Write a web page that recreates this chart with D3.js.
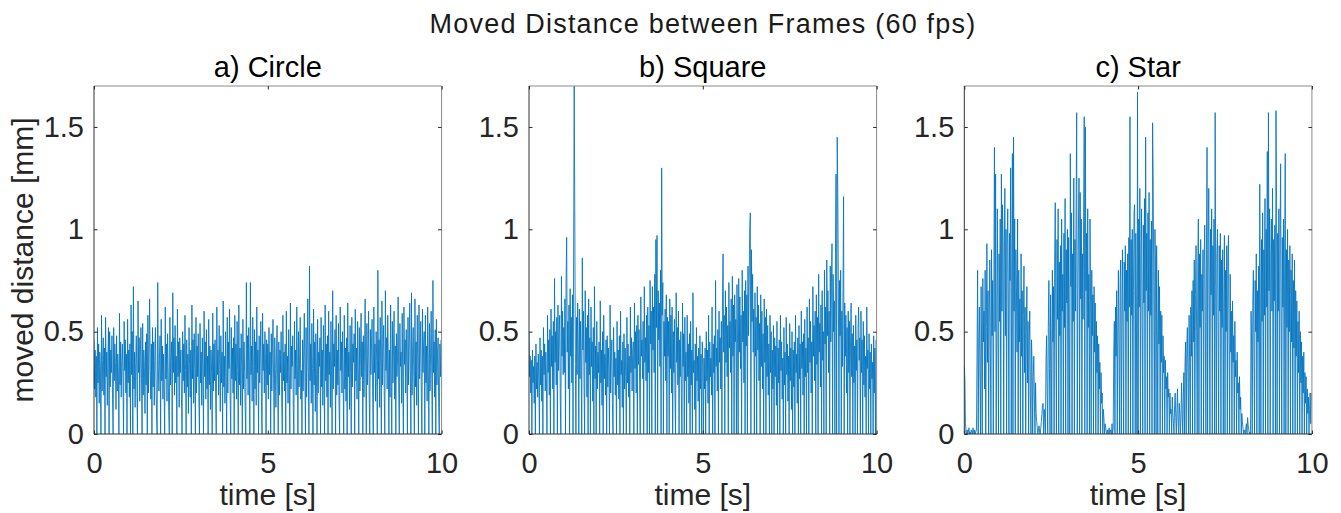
<!DOCTYPE html>
<html>
<head>
<meta charset="utf-8">
<script src="https://cdn.jsdelivr.net/npm/d3@7.9.0/dist/d3.min.js"></script>
<style>
  body { margin: 0; background: #fff; }
  svg { display: block; font-family: "Liberation Sans", Arial, sans-serif; }
  .tick text { fill: #262626; }
  .tick line { stroke: #262626; }
</style>
</head>
<body>
<svg id="chart" width="1341" height="513"></svg>
<script>
// moved distance per frame, in 1/100 mm, 60 frames per second
const FPS = 60;
const mainTitle = "Moved Distance between Frames (60 fps)";
const panelTitles = ["a) Circle", "b) Square", "c) Star"];
const xLabel = "time [s]";
const yLabel = "moved distance [mm]";
const xTicks = [0, 5, 10];
const yTicks = [0, 0.5, 1, 1.5];

const circle = [
  46,22,41,18,38,0,52,25,44,15,40,33,0,58,21,36,47,19,42,0,57,28,40,14,37,52,0,50,23,41,
  30,48,17,0,52,26,44,35,12,48,21,39,30,0,59,24,45,18,36,44,27,0,55,31,46,20,39,0,56,25,
  41,18,44,0,63,29,50,0,72,22,40,13,35,48,26,0,65,30,47,16,38,52,27,0,54,19,41,33,10,45,
  24,49,0,58,20,40,66,31,17,44,0,52,23,45,14,36,52,28,8,0,74,33,21,37,48,0,56,26,43,17,
  39,22,0,62,27,44,16,49,33,11,0,57,24,36,45,0,69,30,47,19,53,25,38,0,61,28,45,13,47,30,
  41,17,0,50,26,44,20,58,31,0,46,23,39,10,52,34,18,41,0,63,27,46,15,49,32,0,57,20,43,28,
  49,18,0,54,25,40,14,47,30,0,60,28,45,17,51,22,38,0,56,24,43,12,41,30,0,59,21,44,26,46,
  16,0,62,29,41,19,53,33,11,48,25,40,0,65,23,38,15,50,28,0,57,20,45,32,61,18,0,52,27,42,
  20,47,0,58,26,44,17,55,31,0,63,24,42,14,49,33,0,56,22,45,30,12,0,74,27,48,19,52,35,0,
  74,29,43,16,57,33,0,51,22,45,14,62,30,41,0,48,25,39,55,18,0,59,31,44,20,50,37,0,46,24,
  44,17,52,29,40,0,49,21,42,56,27,0,47,32,13,39,53,24,0,45,19,41,30,50,16,0,58,26,40,21,
  44,0,60,25,38,15,51,30,0,64,22,43,33,48,12,0,55,27,41,19,62,34,0,50,23,39,57,17,31,0,
  46,21,41,59,28,0,52,18,38,66,30,0,82,26,44,15,54,32,0,61,24,45,11,49,29,0,56,20,40,33,
  47,0,57,23,41,14,53,30,0,63,26,44,18,48,0,60,29,40,13,55,31,0,70,22,44,33,51,0,58,19,
  41,24,54,14,0,62,31,45,20,50,27,0,58,22,42,16,47,0,64,28,40,12,53,30,0,57,23,44,35,49,
  0,61,26,42,17,55,33,0,52,21,40,59,28,45,0,48,18,41,66,30,0,54,24,39,60,19,0,51,29,44,
  56,20,0,62,30,44,16,50,36,0,80,27,46,13,57,33,0,65,24,42,53,19,0,70,31,47,22,58,38,0,
  41,18,63,30,0,55,25,42,60,17,43,0,49,28,38,67,21,0,54,33,40,15,59,26,0,62,34,46,20,51,
  35,0,57,24,42,64,31,0,69,19,40,52,28,0,66,23,45,14,58,34,0,63,27,41,55,18,0,61,30,44,
  50,0,58,25,43,16,62,33,0,54,21,40,60,27,0,75,30,45,18,51,0,56,24,39,47,13,0,44,28,46
];

const square = [
  50,28,38,20,36,0,41,25,33,15,38,0,44,22,35,18,39,27,0,47,24,41,16,38,0,52,29,44,21,40,
  27,0,58,30,46,19,51,0,61,33,48,22,55,0,76,35,50,24,57,0,63,31,49,58,16,0,77,38,60,29,
  52,30,66,0,74,96,40,55,22,63,0,71,38,57,25,68,0,85,170,110,34,0,57,29,64,42,0,61,27,55,
  36,0,86,41,60,24,0,70,35,52,18,58,0,66,29,47,0,62,33,45,16,52,0,72,27,43,0,55,22,40,
  30,45,0,65,25,41,14,50,0,58,27,39,19,46,0,48,23,42,31,0,63,20,38,46,15,0,52,28,40,19,
  37,0,55,24,41,17,48,0,60,29,36,13,45,0,49,22,42,28,0,57,25,44,18,38,0,62,30,47,21,40,
  45,0,64,32,50,20,53,0,58,34,51,24,0,67,38,46,27,55,0,72,35,47,26,58,0,62,30,53,0,75,
  44,60,0,72,41,62,30,78,0,95,52,97,0,70,46,64,33,80,0,130,58,74,0,55,38,61,26,68,0,57,
  38,55,0,66,32,58,20,62,0,50,30,56,17,0,69,35,52,24,60,0,46,28,50,19,0,64,33,49,0,57,
  26,40,0,58,28,44,15,49,0,55,24,41,0,69,30,36,12,44,0,52,26,38,16,42,0,48,22,39,0,45,
  33,0,37,22,42,0,50,26,41,15,58,0,45,28,37,19,62,0,44,30,48,0,75,33,42,21,51,0,60,35,
  47,22,55,0,66,88,40,58,0,70,35,62,28,53,0,74,42,55,30,66,0,77,38,63,0,68,45,56,0,73,
  44,0,76,40,67,32,58,0,80,45,60,25,70,0,75,43,68,0,82,48,72,100,108,0,90,55,78,40,61,0,
  69,38,57,0,72,41,63,26,54,0,68,33,60,22,49,0,66,35,57,0,61,28,53,19,44,0,58,30,50,0,
  41,22,53,0,47,28,43,14,55,0,42,25,46,0,58,31,45,17,37,0,52,24,40,0,57,29,44,16,38,0,
  54,26,42,12,50,0,41,23,45,0,58,30,39,15,47,0,53,27,44,0,60,32,45,19,49,0,56,28,42,0,
  62,30,47,0,66,35,55,20,45,0,72,38,53,26,60,0,68,34,57,0,78,40,54,23,63,0,70,36,50,0,
  80,44,62,0,85,48,70,30,60,0,82,45,74,93,0,78,50,65,0,88,127,0,145,118,72,0,75,48,80,0,
  60,33,70,116,0,64,38,58,20,52,0,60,30,55,0,45,64,28,49,0,53,25,43,0,58,31,46,0,51,62,
  36,47,0,60,30,46,0,55,24,48,18,38,0,62,32,41,0,49,22,40,0,44,27,35,0,48,20,42,0,46
];

const star = [
  33,27,5,1,0,2,0,1,3,0,1,0,2,1,0,3,1,0,2,0,1,2,40,80,0,45,62,28,0,72,
  38,0,76,45,60,22,80,0,52,93,35,70,0,55,85,40,0,90,48,75,0,68,140,50,127,0,45,110,60,0,
  88,55,105,0,127,60,112,94,0,85,120,48,100,0,92,110,65,0,98,75,130,0,80,137,0,145,60,105,0,90,
  72,40,105,0,80,45,66,0,88,38,70,0,58,82,30,62,0,50,72,25,55,0,44,60,20,0,46,35,0,28,
  38,18,0,25,10,6,3,0,2,4,1,0,3,6,10,14,15,0,12,8,0,35,48,20,0,52,75,32,0,68,
  40,0,80,45,72,0,86,113,50,0,95,56,110,0,84,48,92,0,105,60,78,0,98,52,115,0,90,64,100,0,
  96,50,0,137,72,108,0,88,55,125,0,95,60,112,157,0,70,100,125,0,118,66,105,0,88,56,108,155,0,150,
  70,98,0,110,52,78,0,105,62,0,80,48,68,0,72,40,64,0,55,30,48,0,44,22,35,0,30,15,20,0,
  12,8,0,5,3,1,0,2,0,1,3,0,2,1,0,5,0,3,40,55,0,62,38,70,0,50,80,42,0,75,
  85,0,52,90,48,0,84,60,92,0,80,55,88,0,96,62,155,0,95,58,100,0,70,108,112,0,98,60,0,167,
  0,105,62,120,0,88,110,55,0,102,64,115,0,145,70,98,0,108,60,118,0,95,58,104,0,152,125,72,0,100,
  85,0,92,50,0,80,44,72,0,60,35,58,0,48,30,38,0,36,22,28,0,30,18,22,0,20,10,12,0,18,
  10,5,0,14,20,8,0,12,22,6,0,15,10,0,8,25,12,0,18,30,0,35,45,0,40,52,28,0,58,35,
  0,62,38,70,0,75,45,85,0,68,92,50,0,80,105,0,88,52,95,0,78,60,90,0,85,102,55,0,90,140,
  0,95,120,62,0,100,68,110,0,92,58,105,0,157,72,0,88,100,55,0,92,60,98,0,85,52,90,0,66,97,
  0,80,50,92,0,85,97,48,0,78,40,60,0,65,35,48,0,55,28,36,0,40,20,25,0,28,12,18,0,10,
  6,3,0,2,1,0,3,5,0,8,4,2,0,1,0,60,42,0,65,80,38,0,75,50,88,0,70,45,82,0,
  122,60,0,95,55,108,0,90,58,115,0,100,62,138,0,157,70,110,0,85,105,60,120,0,95,65,102,0,158,115,
  0,98,60,110,0,92,132,55,0,96,62,105,0,88,137,0,90,52,100,0,85,50,92,0,80,45,88,0,75,42,
  85,0,70,38,65,0,55,30,60,0,50,25,45,0,38,20,40,0,30,15,28,0,22,10,18,0,12,20,5,20
];

const series = [circle, square, star];

const svg = d3.select("#chart");
const plotTop = 86, plotH = 348, plotW = 347.6;
const lefts = [94, 529, 964.3];

const x = d3.scaleLinear().domain([0, 10]).range([0, plotW]);
const y = d3.scaleLinear().domain([0, 1.7]).range([plotH, 0]);

const line = d3.line()
  .x((d, i) => x(i / FPS))
  .y(d => y(d / 100));

svg.append("text")
  .attr("x", 703).attr("y", 33)
  .attr("text-anchor", "middle")
  .attr("font-size", 27)
  .attr("letter-spacing", 1.2)
  .attr("fill", "#1a1a1a")
  .text(mainTitle);

series.forEach((vals, k) => {
  const g = svg.append("g").attr("transform", `translate(${lefts[k]},${plotTop})`);

  g.append("clipPath").attr("id", "clip" + k)
    .append("rect").attr("width", plotW).attr("height", plotH);

  g.append("path")
    .datum(vals)
    .attr("clip-path", `url(#clip${k})`)
    .attr("fill", "none")
    .attr("stroke", "#0072bd")
    .attr("stroke-width", 0.85)
    .attr("stroke-linejoin", "round")
    .attr("d", line);

  // frame: lighter top/right, darker left/bottom
  g.append("line").attr("x1", 0).attr("x2", plotW).attr("y1", 0).attr("y2", 0).attr("stroke", "#8a8a8a");
  g.append("line").attr("x1", plotW).attr("x2", plotW).attr("y1", 0).attr("y2", plotH).attr("stroke", "#8a8a8a");

  const yAxis = g.append("g")
    .call(d3.axisLeft(y).tickValues(yTicks).tickSize(-3.5).tickPadding(10).tickFormat(d => d));
  const yAxisR = g.append("g").attr("transform", `translate(${plotW},0)`)
    .call(d3.axisRight(y).tickValues(yTicks).tickSize(-3.5).tickFormat(""));
  const xAxis = g.append("g").attr("transform", `translate(0,${plotH})`)
    .call(d3.axisBottom(x).tickValues(xTicks).tickSize(-3.5).tickPadding(18).tickFormat(d => d));
  const xAxisT = g.append("g")
    .call(d3.axisTop(x).tickValues(xTicks).tickSize(-3.5).tickFormat(""));

  [yAxis, yAxisR, xAxis, xAxisT].forEach(a => {
    a.select(".domain").remove();
    a.selectAll("text").attr("font-size", 29).attr("font-family", "Liberation Sans, Arial, sans-serif");
  });

  g.append("line").attr("x1", 0).attr("x2", 0).attr("y1", 0).attr("y2", plotH).attr("stroke", "#333");
  g.append("line").attr("x1", 0).attr("x2", plotW).attr("y1", plotH).attr("y2", plotH).attr("stroke", "#333");

  g.append("text")
    .attr("x", plotW / 2).attr("y", -9)
    .attr("text-anchor", "middle")
    .attr("font-size", 29)
    .attr("fill", "#000")
    .text(panelTitles[k]);

  g.append("text")
    .attr("x", plotW / 2).attr("y", plotH + 71)
    .attr("text-anchor", "middle")
    .attr("font-size", 30)
    .attr("fill", "#262626")
    .text(xLabel);
});

svg.append("text")
  .attr("transform", `translate(33,${plotTop + plotH / 2}) rotate(-90)`)
  .attr("text-anchor", "middle")
  .attr("font-size", 30)
  .attr("fill", "#262626")
  .text(yLabel);
</script>
</body>
</html>
